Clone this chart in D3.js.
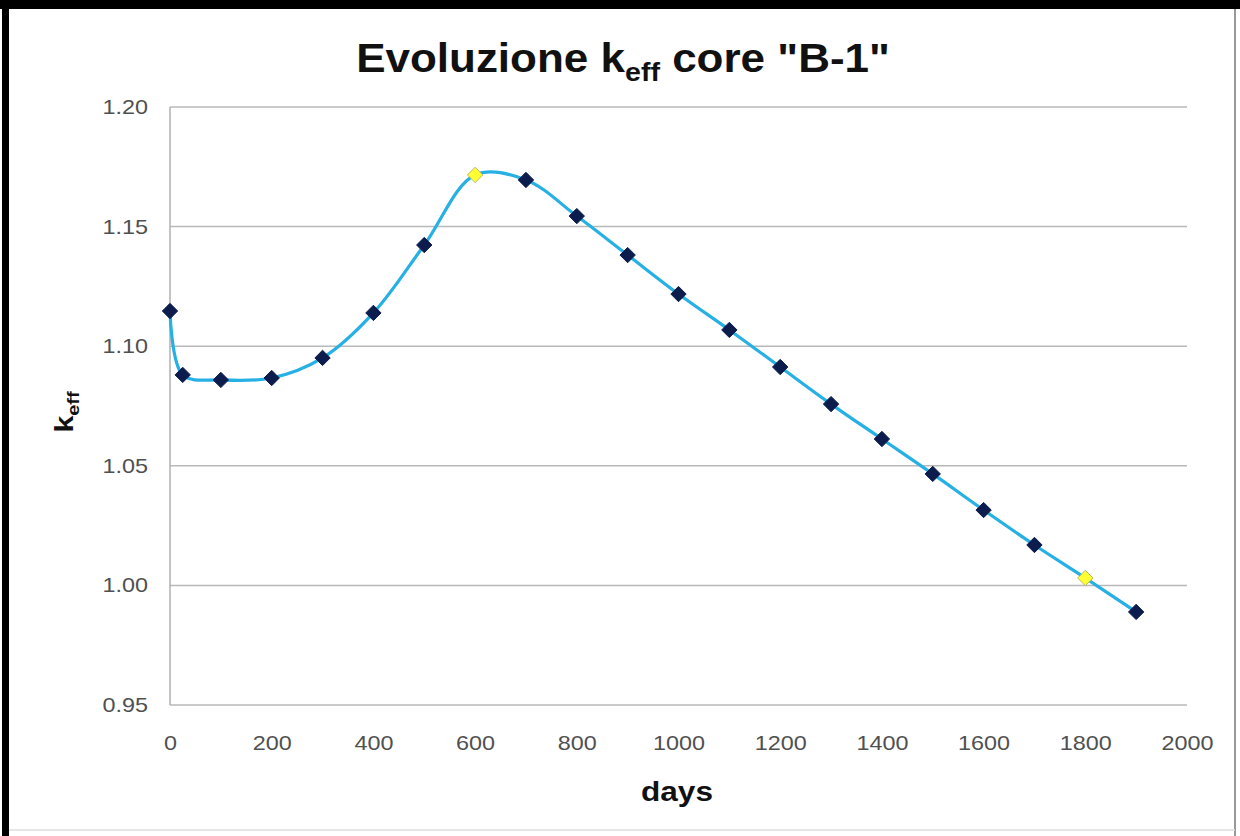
<!DOCTYPE html>
<html><head><meta charset="utf-8">
<script src="https://cdn.jsdelivr.net/npm/d3@7"></script>
<style>body{margin:0;background:#fff}svg{display:block}</style>
</head><body>
<svg id="c" width="1240" height="836"></svg>
<script>
const days = [0, 25, 100, 200, 300, 400, 500, 600, 700, 800, 900, 1000, 1100, 1200, 1300, 1400, 1500, 1600, 1700, 1800, 1900];
const keff = [1.1147, 1.0880, 1.0859, 1.0867, 1.0951, 1.1139, 1.1423, 1.1716, 1.1695, 1.1544, 1.1381, 1.1218, 1.1068, 1.0913, 1.0758, 1.0612, 1.0466, 1.0315, 1.0169, 1.0031, 0.9889];
const highlighted = [600, 1800];
const xTicks = [0, 200, 400, 600, 800, 1000, 1200, 1400, 1600, 1800, 2000];
const yTicks = [0.95, 1.00, 1.05, 1.10, 1.15, 1.20];

const FONT = "Liberation Sans, Arial, sans-serif";
const SX = 1.17; // horizontal stretch of the text in the reference

const svg = d3.select("#c");
// frame
svg.append("rect").attr("x",0).attr("y",0).attr("width",1240).attr("height",836).attr("fill","#fff");
svg.append("rect").attr("x",0).attr("y",0).attr("width",1240).attr("height",9).attr("fill","#000");
svg.append("rect").attr("x",2).attr("y",0).attr("width",7).attr("height",836).attr("fill","#000");
svg.append("line").attr("x1",1235).attr("x2",1235).attr("y1",9).attr("y2",836).attr("stroke","#999").attr("stroke-width",2);
svg.append("line").attr("x1",9).attr("x2",1235).attr("y1",830).attr("y2",830).attr("stroke","#ddd").attr("stroke-width",1.5);

const x = d3.scaleLinear().domain([0,2000]).range([170,1187]);
const y = d3.scaleLinear().domain([0.95,1.20]).range([705,107]);

// grid
svg.append("g").selectAll("line").data(yTicks).join("line")
  .attr("x1",170).attr("x2",1187).attr("y1",d=>y(d)).attr("y2",d=>y(d))
  .attr("stroke","#b8b8b8").attr("stroke-width",1.5);
svg.append("line").attr("x1",170).attr("x2",170).attr("y1",107).attr("y2",705).attr("stroke","#b0b0b0").attr("stroke-width",1.5);

// axes
const yAxis = svg.append("g").attr("transform","translate(170,0)")
  .call(d3.axisLeft(y).tickValues(yTicks).tickFormat(d3.format(".2f")).tickSize(0).tickPadding(22));
yAxis.select(".domain").remove();
yAxis.selectAll("text").attr("font-family",FONT).attr("font-size",20).attr("fill","#505050")
  .attr("x", -22/SX).attr("transform",`scale(${SX},1)`);

const xAxis = svg.append("g").attr("transform","translate(0,705)")
  .call(d3.axisBottom(x).tickValues(xTicks).tickFormat(d3.format("d")).tickSize(0).tickPadding(31));
xAxis.select(".domain").remove();
xAxis.selectAll("text").attr("font-family",FONT).attr("font-size",20).attr("fill","#505050")
  .attr("transform",`scale(${SX},1)`);

// line
const pts = days.map((d,i)=>({d, k:keff[i]}));
svg.append("path").datum(pts)
  .attr("d", d3.line().x(p=>x(p.d)).y(p=>y(p.k)).curve(d3.curveCatmullRom.alpha(0.5)))
  .attr("fill","none").attr("stroke","#26b0e4").attr("stroke-width",3.2);

// markers
const sym = d3.symbol().type(d3.symbolDiamond2).size(150);
svg.append("g").selectAll("path").data(pts).join("path")
  .attr("transform",p=>`translate(${x(p.d)},${y(p.k)})`)
  .attr("d", sym)
  .attr("fill",p=>highlighted.includes(p.d) ? "#ffff33" : "#0b1c4d")
  .attr("stroke",p=>highlighted.includes(p.d) ? "#b8b860" : "#0b1c4d")
  .attr("stroke-width",1);

// title
const t = svg.append("text").attr("transform",`translate(623,72) scale(1.1,1)`).attr("text-anchor","middle")
  .attr("font-family",FONT).attr("font-weight","bold").attr("font-size",40).attr("fill","#111");
t.append("tspan").text("Evoluzione k");
t.append("tspan").attr("font-size",26).attr("dy",9).text("eff");
t.append("tspan").attr("dy",-9).text(" core \"B-1\"");

// y label
const yl = svg.append("text").attr("transform",`translate(73,412) rotate(-90) scale(${SX},1)`).attr("text-anchor","middle")
  .attr("font-family",FONT).attr("font-weight","bold").attr("font-size",26).attr("fill","#111");
yl.append("tspan").text("k");
yl.append("tspan").attr("font-size",17).attr("dy",6).text("eff");

// x label
svg.append("text").attr("transform",`translate(677,801) scale(${SX},1)`).attr("text-anchor","middle")
  .attr("font-family",FONT).attr("font-weight","bold").attr("font-size",27).attr("fill","#111")
  .text("days");
</script>
</body></html>
